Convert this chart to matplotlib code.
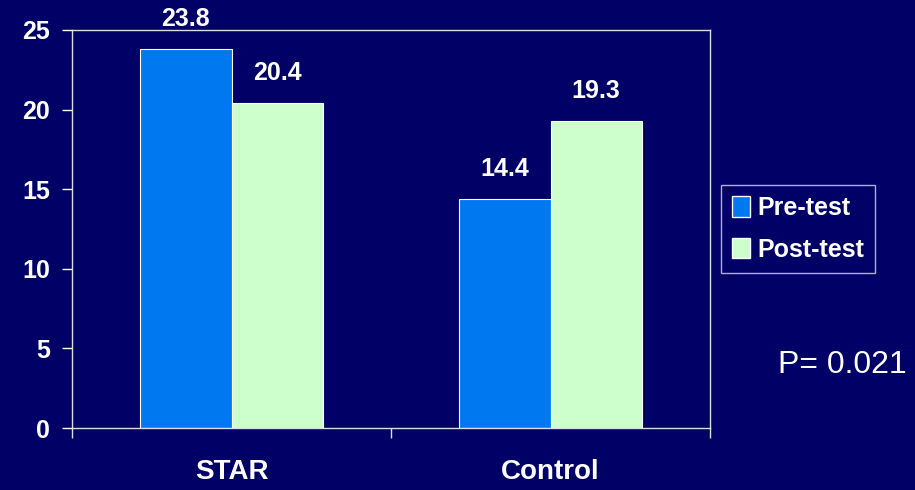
import numpy as np
import matplotlib.pyplot as plt
from matplotlib.patches import Patch

groups = ["STAR", "Control"]
pre_test = [23.8, 14.4]
post_test = [20.4, 19.3]
y_ticks = [0, 5, 10, 15, 20, 25]

bg = "#000066"
pre_color = "#0078F0"
post_color = "#CCFFCC"

plt.rcParams["font.family"] = ["Liberation Sans", "DejaVu Sans"]

fig = plt.figure(figsize=(9.15, 4.9), dpi=100, facecolor=bg)
ax = fig.add_axes([0.0787, 0.1265, 0.6973, 0.8123], facecolor=bg)

x = np.arange(len(groups)) + 0.5
w = 0.286
b1 = ax.bar(x - w / 2, pre_test, w, color=pre_color, edgecolor="white", linewidth=0.8)
b2 = ax.bar(x + w / 2, post_test, w, color=post_color, edgecolor="white", linewidth=0.8)

for bars in (b1, b2):
    for bar in bars:
        ax.annotate(f"{bar.get_height():.1f}",
                    (bar.get_x() + bar.get_width() / 2, bar.get_height()),
                    xytext=(0, 13), textcoords="offset points",
                    ha="center", va="bottom", color="white",
                    fontsize=18, fontweight="bold")

ax.set_xlim(0, 2)
ax.set_ylim(0, 25)
ax.set_yticks(y_ticks)
ax.set_xticks(x)
ax.set_xticklabels(groups)
ax.set_xticks([0, 1, 2], minor=True)

for s in ax.spines.values():
    s.set_color("#dddddd")
    s.set_linewidth(1)

ax.tick_params(axis="y", colors="white", length=7, width=1, pad=9,
               labelsize=18)
for t in ax.get_yticklabels():
    t.set_fontweight("bold")
ax.tick_params(axis="x", which="major", length=0, pad=22, colors="white",
               labelsize=20)
ax.tick_params(axis="x", which="minor", length=7, width=1, color="#dddddd")
for t in ax.get_xticklabels():
    t.set_fontweight("bold")

handles = [Patch(facecolor=pre_color, edgecolor="white", label="Pre-test"),
           Patch(facecolor=post_color, edgecolor="white", label="Post-test")]
leg = fig.legend(handles=handles, loc="upper left",
                 bbox_to_anchor=(721 / 915, 1 - 185 / 490),
                 frameon=True, fancybox=False, facecolor=bg, edgecolor="#dddddd",
                 prop={"size": 18, "weight": "bold"}, labelcolor="white",
                 handlelength=0.7, handleheight=0.9, handletextpad=0.3,
                 borderpad=0.45, labelspacing=0.7, borderaxespad=0)
leg.get_frame().set_linewidth(1)

fig.text(778 / 915, 1 - 365 / 490, "P= 0.021", color="white", fontsize=23,
         ha="left", va="center")

fig.savefig("out.png", dpi=100, facecolor=bg)
